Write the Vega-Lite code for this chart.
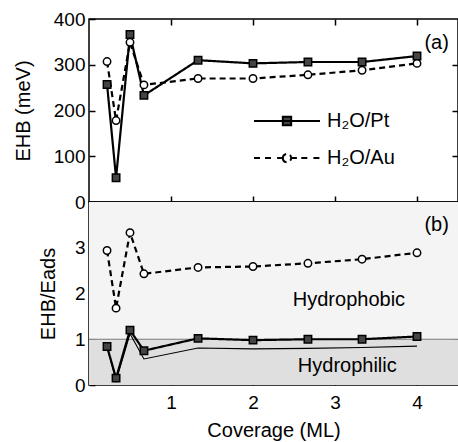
{
  "$schema": "https://vega.github.io/schema/vega-lite/v6.json",
  "padding": {"left": 12, "top": 9, "right": 0, "bottom": 0},
  "spacing": 0,
  "bounds": "flush",
  "background": "white",
  "datasets": {
    "ehb": [
      {"cov": 0.22, "val": 257, "series": "H₂O/Pt"},
      {"cov": 0.33, "val": 53, "series": "H₂O/Pt"},
      {"cov": 0.5, "val": 366, "series": "H₂O/Pt"},
      {"cov": 0.67, "val": 233, "series": "H₂O/Pt"},
      {"cov": 1.33, "val": 310, "series": "H₂O/Pt"},
      {"cov": 2.0, "val": 303, "series": "H₂O/Pt"},
      {"cov": 2.67, "val": 306, "series": "H₂O/Pt"},
      {"cov": 3.33, "val": 306, "series": "H₂O/Pt"},
      {"cov": 4.0, "val": 319, "series": "H₂O/Pt"},
      {"cov": 0.22, "val": 307, "series": "H₂O/Au"},
      {"cov": 0.33, "val": 178, "series": "H₂O/Au"},
      {"cov": 0.5, "val": 349, "series": "H₂O/Au"},
      {"cov": 0.67, "val": 256, "series": "H₂O/Au"},
      {"cov": 1.33, "val": 270, "series": "H₂O/Au"},
      {"cov": 2.0, "val": 270, "series": "H₂O/Au"},
      {"cov": 2.67, "val": 278, "series": "H₂O/Au"},
      {"cov": 3.33, "val": 288, "series": "H₂O/Au"},
      {"cov": 4.0, "val": 303, "series": "H₂O/Au"}
    ],
    "ratio": [
      {"cov": 0.22, "val": 0.84, "series": "H₂O/Pt"},
      {"cov": 0.33, "val": 0.15, "series": "H₂O/Pt"},
      {"cov": 0.5, "val": 1.2, "series": "H₂O/Pt"},
      {"cov": 0.67, "val": 0.75, "series": "H₂O/Pt"},
      {"cov": 1.33, "val": 1.02, "series": "H₂O/Pt"},
      {"cov": 2.0, "val": 0.98, "series": "H₂O/Pt"},
      {"cov": 2.67, "val": 1.0, "series": "H₂O/Pt"},
      {"cov": 3.33, "val": 1.0, "series": "H₂O/Pt"},
      {"cov": 4.0, "val": 1.06, "series": "H₂O/Pt"},
      {"cov": 0.22, "val": 2.94, "series": "H₂O/Au"},
      {"cov": 0.33, "val": 1.68, "series": "H₂O/Au"},
      {"cov": 0.5, "val": 3.33, "series": "H₂O/Au"},
      {"cov": 0.67, "val": 2.43, "series": "H₂O/Au"},
      {"cov": 1.33, "val": 2.57, "series": "H₂O/Au"},
      {"cov": 2.0, "val": 2.59, "series": "H₂O/Au"},
      {"cov": 2.67, "val": 2.66, "series": "H₂O/Au"},
      {"cov": 3.33, "val": 2.75, "series": "H₂O/Au"},
      {"cov": 4.0, "val": 2.89, "series": "H₂O/Au"}
    ],
    "thin": [
      {"cov": 0.22, "val": 0.84},
      {"cov": 0.33, "val": 0.09},
      {"cov": 0.5, "val": 1.12},
      {"cov": 0.67, "val": 0.57},
      {"cov": 1.33, "val": 0.81},
      {"cov": 2.0, "val": 0.79},
      {"cov": 2.67, "val": 0.8},
      {"cov": 3.33, "val": 0.82},
      {"cov": 4.0, "val": 0.85}
    ],
    "bands": [
      {"lo": 1, "hi": 4, "zone": "phobic"},
      {"lo": 0, "hi": 1, "zone": "philic"}
    ],
    "labelsA": [{"cov": 4.24, "val": 348, "label": "(a)"}],
    "labelsB": [
      {"cov": 4.24, "val": 3.5, "label": "(b)"},
      {"cov": 3.17, "val": 1.85, "label": "Hydrophobic"},
      {"cov": 3.15, "val": 0.42, "label": "Hydrophilic"}
    ]
  },
  "vconcat": [
    {
      "width": 369,
      "height": 183,
      "layer": [
        {
          "data": {"name": "ehb"},
          "mark": {"type": "line", "strokeWidth": 2.2, "color": "black"},
          "encoding": {
            "x": {"field": "cov", "type": "quantitative", "scale": {"domain": [0, 4.5], "nice": false},
                  "axis": {"orient": "bottom", "values": [1, 2, 3, 4], "labels": false, "title": null, "ticks": true, "tickSize": 6, "tickWidth": 1.5, "tickColor": "black", "tickOpacity": 1, "offset": -6}},
            "y": {"field": "val", "type": "quantitative", "scale": {"domain": [0, 400], "nice": false},
                  "axis": {"orient": "left", "values": [0, 100, 200, 300, 400], "title": "EHB (meV)", "labelPadding": 4, "titlePadding": 20, "ticks": true, "tickSize": 6, "tickWidth": 1.5, "tickColor": "black", "tickOpacity": 1, "offset": -6}},
            "strokeDash": {
              "field": "series", "type": "nominal",
              "scale": {"domain": ["H₂O/Pt", "H₂O/Au"], "range": [[1, 0], [6, 4]]},
              "legend": {
                "orient": "none", "legendX": 186, "legendY": 90, "title": null, "padding": 0,
                "symbolSize": 484, "symbolStrokeWidth": 2, "symbolStrokeColor": "black",
                "labelFont": "Liberation Sans", "labelFontSize": 20, "labelColor": "black",
                "labelOffset": 28, "rowPadding": 15,
                "encode": {
                  "symbols": {
                    "update": {
                      "shape": {"signal": "datum.value === 'H₂O/Pt' ? 'M-3,0L3,0M-0.38,-0.38L0.38,-0.38L0.38,0.38L-0.38,0.38Z' : 'M-3,0L-2.4,0M-2.0,0L-1.3,0M-0.9,0L-0.38,0M0.38,0L0.9,0M1.3,0L2.0,0M2.4,0L3,0M-0.38,0A0.38,0.38 0 1,0 0.38,0A0.38,0.38 0 1,0 -0.38,0Z'"},
                      "strokeDash": {"value": [1, 0]},
                      "fill": {"signal": "datum.value === 'H₂O/Pt' ? '#444444' : 'white'"},
                      "fillOpacity": {"value": 1},
                      "stroke": {"value": "black"}
                    }
                  }
                }
              }
            }
          }
        },
        {
          "data": {"name": "ehb"},
          "mark": {"type": "point", "size": 55, "strokeWidth": 1.5, "opacity": 1, "stroke": "black"},
          "encoding": {
            "x": {"field": "cov", "type": "quantitative", "axis": {"orient": "top", "values": [1, 2, 3, 4], "labels": false, "title": null, "ticks": true, "tickSize": 6, "tickWidth": 1.5, "tickColor": "black", "tickOpacity": 1, "offset": -6}},
            "y": {"field": "val", "type": "quantitative", "axis": {"orient": "right", "values": [100, 200, 300], "labels": false, "title": null, "ticks": true, "tickSize": 6, "tickWidth": 1.5, "tickColor": "black", "tickOpacity": 1, "offset": -6}},
            "shape": {"condition": {"test": "datum.series === 'H₂O/Pt'", "value": "square"}, "value": "circle"},
            "fill": {"condition": {"test": "datum.series === 'H₂O/Pt'", "value": "#444444"}, "value": "white"}
          }
        },
        {
          "data": {"name": "labelsA"},
          "mark": {"type": "text", "font": "Liberation Sans", "fontSize": 20, "color": "black"},
          "encoding": {
            "x": {"field": "cov", "type": "quantitative", "axis": null},
            "y": {"field": "val", "type": "quantitative", "axis": null},
            "text": {"field": "label"}
          }
        }
      ],
      "resolve": {"axis": {"x": "independent", "y": "independent"}}
    },
    {
      "width": 369,
      "height": 183,
      "layer": [
        {
          "data": {"name": "bands"},
          "mark": {"type": "rect"},
          "encoding": {
            "y": {"field": "lo", "type": "quantitative", "scale": {"domain": [0, 4], "nice": false}, "axis": null},
            "y2": {"field": "hi"},
            "fill": {"condition": {"test": "datum.zone === 'phobic'", "value": "#f4f4f4"}, "value": "#dfdfdf"}
          }
        },
        {
          "data": {"values": [{"val": 1}]},
          "mark": {"type": "rule", "color": "#7a7a7a", "strokeWidth": 1},
          "encoding": {"y": {"field": "val", "type": "quantitative", "axis": null}}
        },
        {
          "data": {"name": "thin"},
          "mark": {"type": "line", "strokeWidth": 1.1, "color": "black"},
          "encoding": {
            "x": {"field": "cov", "type": "quantitative", "axis": null},
            "y": {"field": "val", "type": "quantitative", "axis": null}
          }
        },
        {
          "data": {"name": "ratio"},
          "mark": {"type": "line", "strokeWidth": 2.2, "color": "black"},
          "encoding": {
            "x": {"field": "cov", "type": "quantitative", "scale": {"domain": [0, 4.5], "nice": false},
                  "axis": {"orient": "bottom", "values": [1, 2, 3, 4], "title": "Coverage (ML)", "labelPadding": 8, "titlePadding": 8, "ticks": true, "tickSize": 6, "tickWidth": 1.5, "tickColor": "black", "tickOpacity": 1, "offset": -6}},
            "y": {"field": "val", "type": "quantitative",
                  "axis": {"orient": "left", "values": [0, 1, 2, 3], "title": "EHB/Eads", "labelPadding": 4, "titlePadding": 16, "ticks": true, "tickSize": 6, "tickWidth": 1.5, "tickColor": "black", "tickOpacity": 1, "offset": -6}},
            "strokeDash": {"field": "series", "type": "nominal", "scale": {"domain": ["H₂O/Pt", "H₂O/Au"], "range": [[1, 0], [6, 4]]}, "legend": null}
          }
        },
        {
          "data": {"name": "ratio"},
          "mark": {"type": "point", "size": 55, "strokeWidth": 1.5, "opacity": 1, "stroke": "black"},
          "encoding": {
            "x": {"field": "cov", "type": "quantitative", "axis": {"orient": "top", "values": [1, 2, 3, 4], "labels": false, "title": null, "ticks": true, "tickSize": 6, "tickWidth": 1.5, "tickColor": "black", "tickOpacity": 1, "offset": -6}},
            "y": {"field": "val", "type": "quantitative", "axis": {"orient": "right", "values": [1, 2, 3], "labels": false, "title": null, "ticks": true, "tickSize": 6, "tickWidth": 1.5, "tickColor": "black", "tickOpacity": 1, "offset": -6}},
            "shape": {"condition": {"test": "datum.series === 'H₂O/Pt'", "value": "square"}, "value": "circle"},
            "fill": {"condition": {"test": "datum.series === 'H₂O/Pt'", "value": "#444444"}, "value": "white"}
          }
        },
        {
          "data": {"name": "labelsB"},
          "mark": {"type": "text", "font": "Liberation Sans", "fontSize": 20, "color": "black"},
          "encoding": {
            "x": {"field": "cov", "type": "quantitative", "axis": null},
            "y": {"field": "val", "type": "quantitative", "axis": null},
            "text": {"field": "label"}
          }
        }
      ],
      "resolve": {"axis": {"x": "independent", "y": "independent"}}
    }
  ],
  "resolve": {"scale": {"strokeDash": "independent"}, "legend": {"strokeDash": "independent"}},
  "config": {
    "view": {"stroke": "black", "strokeWidth": 1.5},
    "axis": {
      "labelFont": "Liberation Sans", "titleFont": "Liberation Sans",
      "labelFontSize": 19, "titleFontSize": 20, "titleFontWeight": "normal",
      "labelColor": "black", "titleColor": "black", "labelFlush": false,
      "domain": false, "zindex": 1,
      "grid": false, "minExtent": 0
    }
  }
}
